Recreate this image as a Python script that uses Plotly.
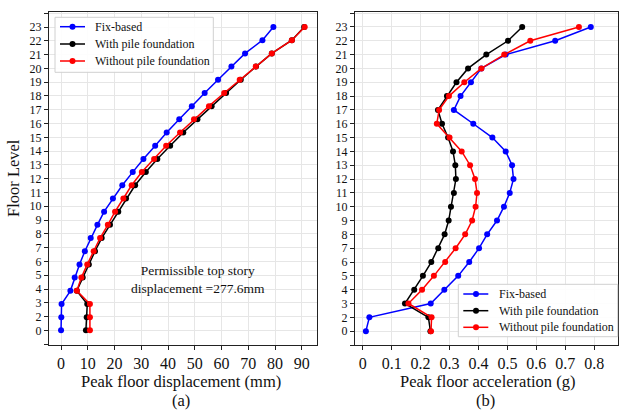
import numpy as np
import plotly.graph_objects as go

# ---------------- data ----------------
floor_labels = ["0", "2", "3", "4", "5", "6", "7", "8", "9", "10", "11", "12",
                "13", "14", "15", "16", "17", "18", "19", "20", "21", "22", "23"]

# (a) displacement (mm) - 24 plotted levels
levels_a = [0, 1, 2, 3, 4, 5, 6, 7, 8, 9, 10, 11, 12, 13, 14, 15, 16, 17, 18, 19, 20, 21, 22, 23]
disp_fix = [0.0, 0.1, 0.2, 3.5, 5.1, 6.9, 8.9, 11.1, 13.6, 16.1, 19.4, 22.9,
            26.8, 30.8, 35.2, 39.5, 44.2, 48.9, 53.7, 58.7, 63.7, 68.8, 75.3, 79.4]
disp_pile = [9.3, 9.6, 9.8, 5.9, 8.1, 10.4, 12.7, 15.2, 18.3, 21.4, 24.3, 27.7,
             31.7, 36.0, 40.8, 45.7, 51.0, 56.3, 61.7, 67.2, 72.9, 78.8, 86.3, 90.9]
disp_nopile = [10.8, 10.8, 10.8, 5.9, 7.6, 9.8, 12.2, 14.6, 17.5, 20.2, 23.3, 26.4,
               30.2, 34.8, 39.3, 44.5, 49.7, 55.3, 61.0, 66.8, 72.8, 78.8, 86.3, 91.1]

# (b) acceleration (g) - one value per labelled level
acc_fix = [0.011, 0.023, 0.235, 0.282, 0.330, 0.368, 0.402, 0.430, 0.464, 0.488, 0.508, 0.521,
           0.516, 0.494, 0.448, 0.382, 0.315, 0.338, 0.374, 0.410, 0.494, 0.665, 0.788]
acc_pile = [0.234, 0.227, 0.146, 0.178, 0.208, 0.237, 0.261, 0.283, 0.297, 0.305, 0.315, 0.322,
            0.320, 0.312, 0.295, 0.274, 0.260, 0.291, 0.324, 0.364, 0.427, 0.502, 0.551]
acc_nopile = [0.236, 0.238, 0.158, 0.205, 0.246, 0.285, 0.321, 0.354, 0.378, 0.390, 0.395, 0.388,
              0.371, 0.342, 0.300, 0.256, 0.264, 0.298, 0.351, 0.410, 0.489, 0.579, 0.747]

series_names = ["Fix-based", "With pile foundation", "Without pile foundation"]
colors = ["#0000ff", "#000000", "#ff0000"]

FONT = "Liberation Serif, Times New Roman, serif"
TXT = "#111111"

fig = go.Figure()

# ---------- panel (a) ----------
for name, vals, col in zip(series_names, [disp_fix, disp_pile, disp_nopile], colors):
    fig.add_trace(go.Scatter(
        x=vals, y=levels_a, mode="lines+markers", name=name, showlegend=False,
        line=dict(color=col, width=1.5), marker=dict(color=col, size=6),
        xaxis="x", yaxis="y"))

# ---------- panel (b) ----------
ypos_b = list(range(len(floor_labels)))
for name, vals, col in zip(series_names, [acc_fix, acc_pile, acc_nopile], colors):
    fig.add_trace(go.Scatter(
        x=vals, y=ypos_b, mode="lines+markers", name=name, showlegend=False,
        line=dict(color=col, width=1.5), marker=dict(color=col, size=6),
        xaxis="x2", yaxis="y2"))

W, H = 620, 412
def px_x(p):
    return p / W
def px_y(p):
    return 1 - p / H

n = len(floor_labels)
step_a = levels_a[-1] / (n - 1)
tickvals_a = [-step_a] + list(np.linspace(0, levels_a[-1], n)) + [levels_a[-1] + step_a]
tickvals_b = [-1] + ypos_b + [n]
ticktext = [""] + floor_labels + [""]

axis_common = dict(
    showline=True, linecolor="#222222", linewidth=1.3, mirror=True,
    ticks="outside", ticklen=4, tickcolor="#222222", tickwidth=1,
    showgrid=True, gridcolor="#e6e6e6", gridwidth=1, zeroline=False,
    automargin=False,
)
xfont = dict(family=FONT, size=16, color=TXT)
yfont = dict(family=FONT, size=12, color=TXT)

fig.update_layout(
    width=W, height=H,
    margin=dict(l=0, r=0, t=0, b=0, autoexpand=False),
    paper_bgcolor="white", plot_bgcolor="white",
    font=dict(family=FONT, color=TXT),
    showlegend=False,
    xaxis=dict(domain=[px_x(49), px_x(317)], range=[-4.5, 95.7], tickfont=xfont,
               tickvals=[0, 10, 20, 30, 40, 50, 60, 70, 80, 90], anchor="y", **axis_common),
    yaxis=dict(domain=[px_y(345), px_y(12)], range=[-1.11, 24.14], tickfont=yfont,
               tickvals=tickvals_a, ticktext=ticktext, anchor="x", **axis_common),
    xaxis2=dict(domain=[px_x(355), px_x(618)], range=[-0.0266, 0.882], tickfont=xfont,
                tickvals=[0, 0.1, 0.2, 0.3, 0.4, 0.5, 0.6, 0.7, 0.8],
                ticktext=["0", "0.1", "0.2", "0.3", "0.4", "0.5", "0.6", "0.7", "0.8"],
                anchor="y2", **axis_common),
    yaxis2=dict(domain=[px_y(345), px_y(12)], range=[-1.0, 23.08], tickfont=yfont,
                tickvals=tickvals_b, ticktext=ticktext, anchor="x2", **axis_common),
)

# ---------- custom legends (matplotlib-like compact boxes) ----------
def add_legend(box, line_x, mark_x, text_x, ys):
    x0, y0, x1, y1 = box
    fig.add_shape(type="rect", xref="paper", yref="paper",
                  x0=px_x(x0), x1=px_x(x1), y0=px_y(y1), y1=px_y(y0),
                  line=dict(color="#d0d0d0", width=1), fillcolor="rgba(255,255,255,0.9)",
                  layer="above")
    for name, col, yy in zip(series_names, colors, ys):
        fig.add_shape(type="line", xref="paper", yref="paper",
                      x0=px_x(line_x[0]), x1=px_x(line_x[1]), y0=px_y(yy), y1=px_y(yy),
                      line=dict(color=col, width=1.5), layer="above")
        fig.add_shape(type="circle", xref="paper", yref="paper",
                      xsizemode="pixel", ysizemode="pixel",
                      xanchor=px_x(mark_x), yanchor=px_y(yy),
                      x0=-3, x1=3, y0=-3, y1=3,
                      line=dict(color=col, width=0), fillcolor=col, layer="above")
        fig.add_annotation(text=name, x=px_x(text_x), y=px_y(yy), xref="paper", yref="paper",
                           xanchor="left", yanchor="middle", showarrow=False,
                           font=dict(family=FONT, size=12, color=TXT))

add_legend((55, 17.3, 213.3, 72.3), (60, 85), 72.5, 93, (26.7, 44, 61))
add_legend((458.3, 284.3, 617.7, 336.7), (463.3, 488.3), 476, 496.5, (294, 310.7, 327.3))

annots = [
    dict(text="Floor Level", x=px_x(13), y=px_y(178), textangle=-90, size=16.5),
    dict(text="Peak floor displacement (mm)", x=px_x(181), y=px_y(381), size=16.5),
    dict(text="(a)", x=px_x(181), y=px_y(400), size=16.5),
    dict(text="Peak floor acceleration (g)", x=px_x(487), y=px_y(381), size=16.5),
    dict(text="(b)", x=px_x(486), y=px_y(400), size=16.5),
    dict(text="Permissible top story<br>displacement =277.6mm", x=px_x(198), y=px_y(279), size=13.5),
]
for a in annots:
    fig.add_annotation(text=a["text"], x=a["x"], y=a["y"], xref="paper", yref="paper",
                       xanchor="center", yanchor="middle", showarrow=False,
                       textangle=a.get("textangle", 0),
                       font=dict(family=FONT, size=a["size"], color=TXT))

fig.write_html("out.html")
